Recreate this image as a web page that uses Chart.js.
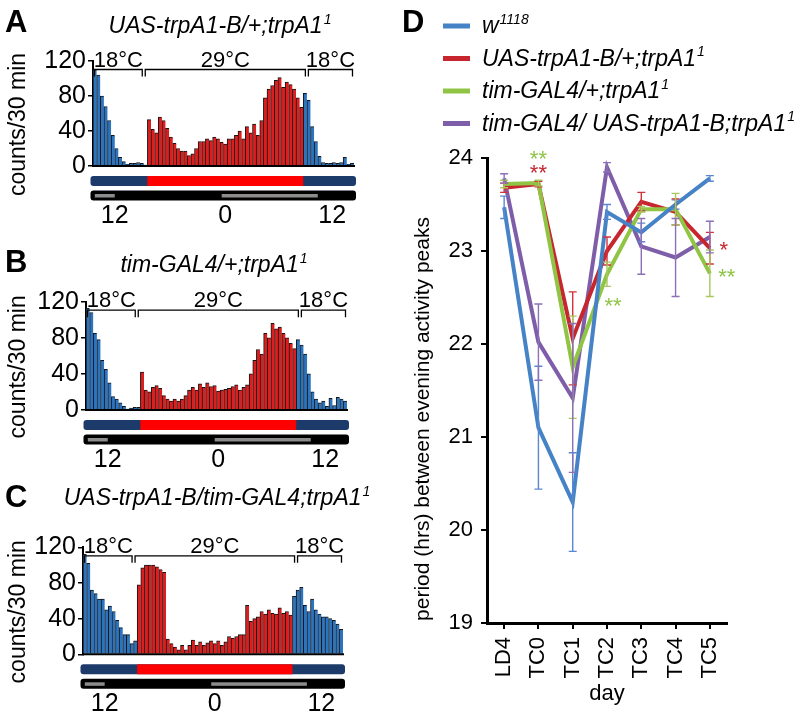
<!DOCTYPE html>
<html>
<head>
<meta charset="utf-8">
<script src="https://cdn.jsdelivr.net/npm/chart.js@4.4.0/dist/chart.umd.min.js"></script>
<style>
  body { margin: 0; background: #fff; width: 800px; height: 716px; overflow: hidden; position: relative; }
  canvas { position: absolute; }
</style>
</head>
<body>
<canvas id="actoA" width="380" height="230" style="left:0;top:0"></canvas>
<canvas id="actoB" width="380" height="245" style="left:0;top:230px"></canvas>
<canvas id="actoC" width="380" height="256" style="left:0;top:460px"></canvas>
<canvas id="period" width="420" height="716" style="left:380px;top:0"></canvas>
<script>
const FONT = '"Liberation Sans", Arial, sans-serif'

// ---- actograms: mean counts per 30-min bin ----
const countsA = [
  110, 104, 80, 68, 52, 35, 20, 10, 5, 2, 3, 3, 4, 3, 1,
  53, 42, 38, 56, 52, 43, 33, 26, 20, 17, 17, 12, 14, 20, 28, 28, 31, 29, 33, 31,
  27, 25, 31, 31, 35, 40, 31, 45, 38, 48, 35, 52, 78, 88, 92, 98, 101, 90, 96, 93, 88, 78, 67,
  83, 75, 45, 28, 11, 4, 3, 3, 4, 3, 4, 10, 2, 3
]
const countsB = [
  113, 108, 85, 78, 55, 45, 30, 15, 12, 8, 4, 1, 2, 3, 3,
  42, 22, 20, 25, 27, 24, 16, 12, 10, 12, 10, 12, 16, 22, 25, 22, 29, 25, 30, 26,
  27, 21, 22, 23, 24, 26, 28, 22, 25, 28, 40, 55, 67, 62, 85, 80, 96, 90, 92, 85, 80, 74, 68,
  78, 72, 62, 40, 20, 12, 8, 10, 4, 13, 5, 14, 12, 10
]
const countsC = [
  112, 102, 72, 68, 62, 62, 50, 54, 48, 38, 30, 22, 22, 12, 15,
  78, 97, 100, 100, 100, 98, 95, 92, 17, 12, 8, 5, 10, 5, 10, 16, 10, 14, 10, 13,
  15, 12, 15, 10, 14, 20, 18, 20, 22, 22, 55, 37, 40, 42, 48, 45, 50, 46, 45, 52, 46, 48, 44,
  65, 72, 75, 55, 48, 62, 50, 45, 42, 42, 40, 38, 34, 28
]
const warmStart = 15, warmEnd = 58        // bins at 29°C
const tempEdges = [0, 14, 59, 72]         // bracket edges (bins)
const tempLabels = ['18°C', '29°C', '18°C']
const lightBins = [[0.5, 6], [35.5, 62]]  // grey segments of the light bar
const hourBins = [6, 36.5, 66]
const hourLabels = ['12', '0', '12']

// ---- panel D: period between evening peaks ----
const days = ['LD4', 'TC0', 'TC1', 'TC2', 'TC3', 'TC4', 'TC5']
const periodW1118 = [23.47, 21.1, 20.3, 23.42, 23.2, 23.5, 23.78]
const semW1118 = [0.12, 0.66, 0.53, 0.08, 0.1, 0.05, 0.03]
const periodUasCtrl = [23.68, 23.72, 22.06, 23.0, 23.53, 23.42, 23.03]
const semUasCtrl = [0.05, 0.03, 0.5, 0.15, 0.1, 0.14, 0.17]
const periodTimCtrl = [23.72, 23.73, 21.75, 22.75, 23.45, 23.45, 22.76]
const semTimCtrl = [0.04, 0.03, 0.55, 0.13, 0.03, 0.17, 0.25]
const periodTimUas = [23.78, 22.02, 21.42, 23.9, 23.05, 22.93, 23.15]
const semTimUas = [0.05, 0.41, 0.8, 0.05, 0.3, 0.42, 0.17]
const seriesNames = ['w', 'UAS-trpA1-B/+;trpA1', 'tim-GAL4/+;trpA1', 'tim-GAL4/ UAS-trpA1-B;trpA1']
const seriesSup = ['1118', '1', '1', '1']
// significance stars: day, text, series, level (hrs)
const sigDays = ['TC0', 'TC0', 'TC2', 'TC5', 'TC5']
const sigText = ['**', '**', '**', '*', '**']
const sigSeries = [2, 1, 2, 1, 2]
const sigLevel = [23.91, 23.76, 22.33, 22.94, 22.65]

const lineColors = ['#4583c6', '#c8262e', '#8fc445', '#7f5ea9']
const errColors = ['#5a88d0', '#d2323c', '#a6c85e', '#8c70b8']

function richText(ctx, x, y, main, sup, size, align) {
  ctx.textBaseline = 'alphabetic'
  ctx.textAlign = 'left'
  ctx.font = `italic ${size}px ${FONT}`
  const w1 = ctx.measureText(main).width
  const supSize = Math.round(size * 0.62)
  ctx.font = `italic ${supSize}px ${FONT}`
  const w2 = sup ? ctx.measureText(sup).width + 1 : 0
  const x0 = align === 'center' ? x - (w1 + w2) / 2 : x
  ctx.font = `italic ${size}px ${FONT}`
  ctx.fillText(main, x0, y)
  if (sup) {
    ctx.font = `italic ${supSize}px ${FONT}`
    ctx.fillText(sup, x0 + w1 + 1, y - size * 0.4)
  }
}

function actogram(id, counts, title, letter, L) {
  const canvas = document.getElementById(id)
  const W = canvas.width, H = canvas.height
  const extras = {
    id: 'extras' + letter,
    afterDraw(chart) {
      const ctx = chart.ctx, a = chart.chartArea
      const pitch = (a.right - a.left) / counts.length
      const bx = b => a.left + b * pitch
      ctx.save()
      ctx.fillStyle = '#000'
      ctx.strokeStyle = '#000'
      // baseline
      ctx.lineWidth = 2
      ctx.beginPath(); ctx.moveTo(a.left - 1, a.bottom); ctx.lineTo(a.right + 1, a.bottom); ctx.stroke()
      // panel letter + title
      ctx.font = `bold 31px ${FONT}`
      ctx.textAlign = 'left'; ctx.textBaseline = 'alphabetic'
      ctx.fillText(letter, 5, L.letterY)
      richText(ctx, L.titleX, L.titleY, title, '1', 23, 'center')
      // y title
      ctx.save()
      ctx.translate(25, (a.top + a.bottom) / 2 + 11)
      ctx.rotate(-Math.PI / 2)
      ctx.font = `23px ${FONT}`; ctx.textAlign = 'center'
      ctx.fillText('counts/30 min', 0, 0)
      ctx.restore()
      // temperature brackets
      const by = a.top + 8.5
      ctx.lineWidth = 1.3
      ctx.font = `22px ${FONT}`; ctx.textAlign = 'center'
      for (let i = 0; i < tempLabels.length; i++) {
        const x0 = bx(tempEdges[i]) + 1.5, x1 = bx(tempEdges[i + 1]) - 1.5
        ctx.beginPath()
        ctx.moveTo(x0, by + 7); ctx.lineTo(x0, by); ctx.lineTo(x1, by); ctx.lineTo(x1, by + 7)
        ctx.stroke()
        ctx.fillText(tempLabels[i], (x0 + x1) / 2, by - 3)
      }
      // temperature bar
      const s1 = a.bottom + 10
      ctx.fillStyle = '#1d3b6a'
      ctx.beginPath(); ctx.roundRect(bx(0) - 2.5, s1, bx(counts.length) - bx(0) + 4.5, 10, 3); ctx.fill()
      ctx.fillStyle = '#ff0000'
      ctx.fillRect(bx(warmStart), s1, bx(warmEnd) - bx(warmStart), 10)
      // light bar
      const s2 = a.bottom + 24.5
      ctx.fillStyle = '#000'
      ctx.beginPath(); ctx.roundRect(bx(0) - 2.5, s2, bx(counts.length) - bx(0) + 4.5, 10, 3); ctx.fill()
      ctx.fillStyle = '#8c8c8c'
      lightBins.forEach(function (seg) {
        ctx.fillRect(bx(seg[0]), s2 + 3.5, bx(seg[1]) - bx(seg[0]), 3.5)
      })
      // hour labels
      ctx.fillStyle = '#000'
      ctx.font = `25px ${FONT}`; ctx.textAlign = 'center'
      hourBins.forEach(function (b, i) {
        ctx.fillText(hourLabels[i], bx(b), a.bottom + 57)
      })
      ctx.restore()
    }
  }
  return new Chart(canvas, {
    type: 'bar',
    data: {
      labels: counts.map((v, i) => i),
      datasets: [{
        data: counts,
        backgroundColor: counts.map((v, i) => (i >= warmStart && i < warmEnd ? '#dc1e1e' : '#2c74be')),
        borderColor: '#151515',
        borderWidth: { top: 1, left: 1, right: 0, bottom: 0 },
        borderSkipped: false,
        barPercentage: 1,
        categoryPercentage: 1,
      }],
    },
    options: {
      responsive: false,
      animation: false,
      layout: { padding: { left: 0, top: L.yTop, right: W - L.right, bottom: H - L.yBottom } },
      plugins: { legend: { display: false }, tooltip: { enabled: false } },
      scales: {
        x: { display: false },
        y: {
          min: 0, max: 120,
          afterFit(s) { s.width = L.left },
          ticks: { stepSize: 40, color: '#000', font: { family: FONT, size: 25 }, padding: 2 },
          grid: { drawOnChartArea: false, color: '#000', tickLength: 5, lineWidth: 1.5 },
          border: { color: '#000', width: 2 },
        },
      },
    },
    plugins: [extras],
  })
}

actogram('actoA', countsA, 'UAS-trpA1-B/+;trpA1', 'A',
  { left: 93, right: 354, yTop: 61, yBottom: 166, letterY: 32, titleX: 220, titleY: 33 })
actogram('actoB', countsB, 'tim-GAL4/+;trpA1', 'B',
  { left: 86, right: 347, yTop: 71.7, yBottom: 180, letterY: 42, titleX: 214, titleY: 42 })
actogram('actoC', countsC, 'UAS-trpA1-B/tim-GAL4;trpA1', 'C',
  { left: 83, right: 343, yTop: 87.3, yBottom: 194.3, letterY: 47, titleX: 217, titleY: 45 })

// ---- panel D ----
const periods = [periodW1118, periodUasCtrl, periodTimCtrl, periodTimUas]
const sems = [semW1118, semUasCtrl, semTimCtrl, semTimUas]
const drawOrder = [0, 2, 1, 3]

const periodExtras = {
  id: 'periodExtras',
  afterDraw(chart) {
    const ctx = chart.ctx, a = chart.chartArea
    const xs = chart.scales.x, ys = chart.scales.y
    ctx.save()
    // error bars
    ctx.lineWidth = 1.4
    periods.forEach(function (vals, s) {
      ctx.strokeStyle = errColors[s]
      vals.forEach(function (v, j) {
        const x = xs.getPixelForValue(j)
        const yt = ys.getPixelForValue(v + sems[s][j]), yb = ys.getPixelForValue(v - sems[s][j])
        ctx.beginPath()
        ctx.moveTo(x, yt); ctx.lineTo(x, yb)
        ctx.moveTo(x - 4, yt); ctx.lineTo(x + 4, yt)
        ctx.moveTo(x - 4, yb); ctx.lineTo(x + 4, yb)
        ctx.stroke()
      })
    })
    // significance stars
    const sigDx = [0, 0, 6, 14, 17]
    ctx.font = `22px ${FONT}`; ctx.textAlign = 'center'; ctx.textBaseline = 'alphabetic'
    sigDays.forEach(function (d, i) {
      ctx.fillStyle = lineColors[sigSeries[i]]
      ctx.fillText(sigText[i], xs.getPixelForValue(days.indexOf(d)) + sigDx[i], ys.getPixelForValue(sigLevel[i]))
    })
    // letter
    ctx.fillStyle = '#000'
    ctx.font = `bold 31px ${FONT}`; ctx.textAlign = 'left'
    ctx.fillText('D', 22, 32)
    // legend
    seriesNames.forEach(function (name, i) {
      const base = 33 + i * 32.5
      ctx.strokeStyle = lineColors[i]; ctx.lineWidth = 5
      ctx.beginPath(); ctx.moveTo(63, base - 7); ctx.lineTo(90, base - 7); ctx.stroke()
      ctx.fillStyle = '#000'
      richText(ctx, 102, base, name, seriesSup[i], 23, 'left')
    })
    // axis titles
    ctx.fillStyle = '#000'
    ctx.font = `22px ${FONT}`; ctx.textAlign = 'center'; ctx.textBaseline = 'alphabetic'
    ctx.fillText('day', (a.left + a.right) / 2, 700)
    ctx.save()
    ctx.translate(49, 419)
    ctx.rotate(-Math.PI / 2)
    ctx.font = `21px ${FONT}`
    ctx.fillText('period (hrs) between evening activity peaks', 0, 0)
    ctx.restore()
    ctx.restore()
  },
}

new Chart(document.getElementById('period'), {
  type: 'line',
  data: {
    labels: days,
    datasets: periods.map(function (vals, s) {
      return {
        label: seriesNames[s] + seriesSup[s],
        data: vals,
        borderColor: lineColors[s],
        borderWidth: 4,
        pointRadius: 0,
        tension: 0,
        order: drawOrder[s],
      }
    }),
  },
  options: {
    responsive: false,
    animation: false,
    layout: { padding: { left: 0, top: 158, right: 73, bottom: 0 } },
    plugins: { legend: { display: false }, tooltip: { enabled: false } },
    scales: {
      x: {
        offset: true,
        afterFit(s) { s.height = 93 },
        grid: { drawOnChartArea: false, color: '#000', tickLength: 6, lineWidth: 2 },
        border: { color: '#000', width: 3 },
        ticks: { minRotation: 90, maxRotation: 90, color: '#000', font: { family: FONT, size: 22 }, padding: 8 },
      },
      y: {
        min: 19, max: 24,
        afterFit(s) { s.width = 107 },
        ticks: { stepSize: 1, color: '#000', font: { family: FONT, size: 22 }, padding: 8 },
        grid: { drawOnChartArea: false, color: '#000', tickLength: 6, lineWidth: 2 },
        border: { color: '#000', width: 3 },
      },
    },
  },
  plugins: [periodExtras],
})
</script>
</body>
</html>
